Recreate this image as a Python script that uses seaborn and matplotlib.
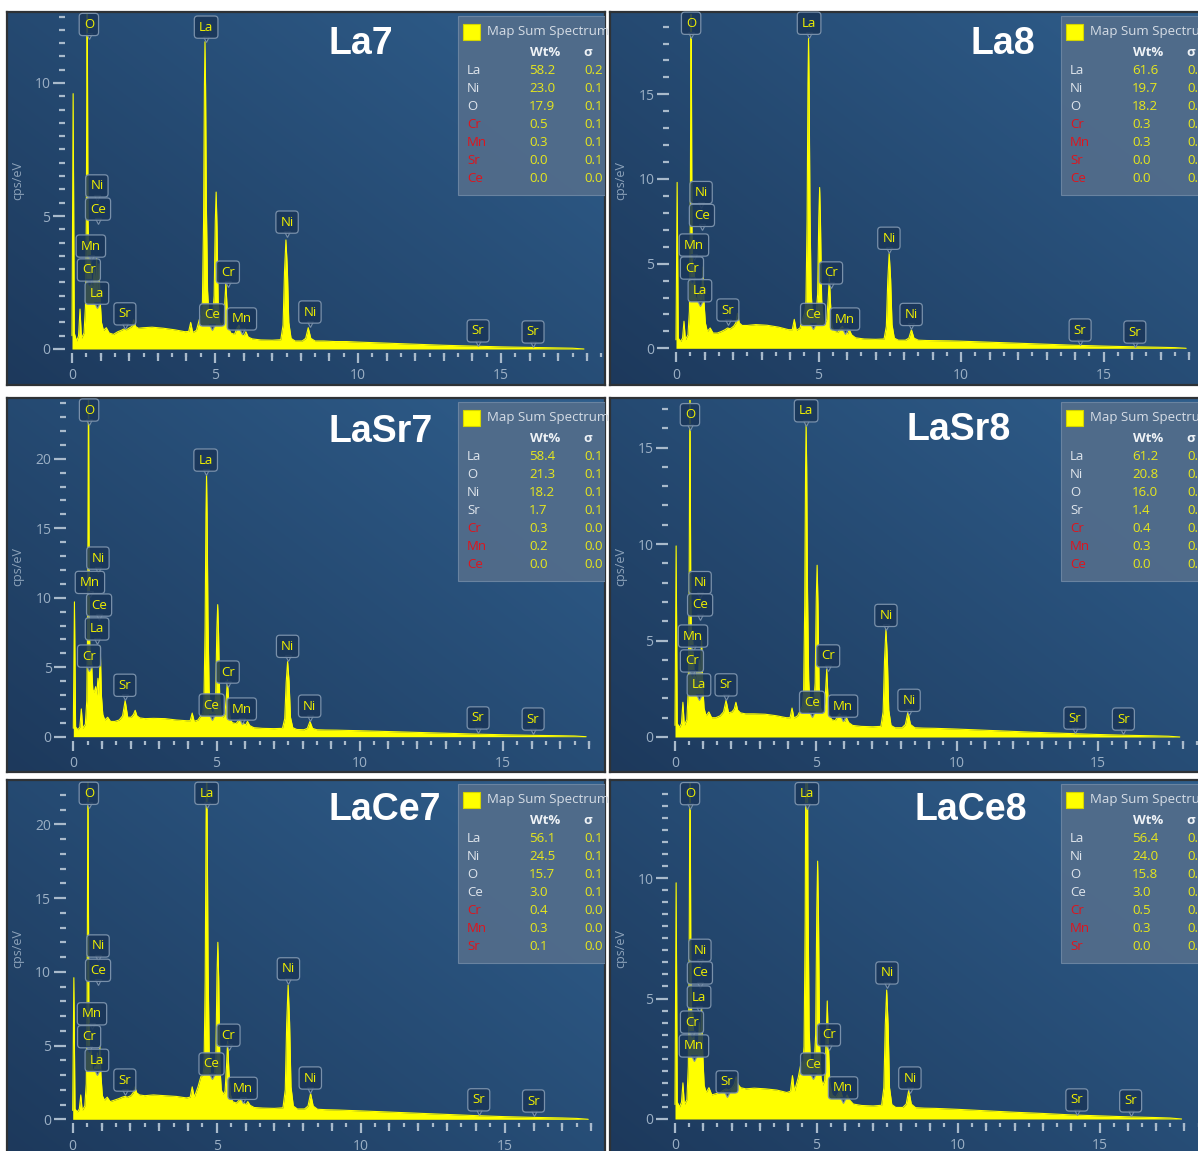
import numpy as np
import matplotlib
matplotlib.use("Agg")
import matplotlib.pyplot as plt
import matplotlib.transforms as mtransforms
from matplotlib.patches import Rectangle
from matplotlib.ticker import MultipleLocator
import seaborn as sns

sns.set_style("ticks")
plt.rcParams["font.family"] = ["Open Sans", "DejaVu Sans"]

# ---------------------------------------------------------------- data
samples = ["La7", "La8", "LaSr7", "LaSr8", "LaCe7", "LaCe8"]

# shared energy axis (keV)
energy_kev = [
    0.00, 0.04, 0.08, 0.16, 0.23, 0.28, 0.33, 0.42, 0.47, 0.50, 0.53, 0.56, 0.59,
    0.63, 0.68, 0.73, 0.78, 0.82, 0.86, 0.90, 0.94, 0.98, 1.03, 1.10, 1.20, 1.30,
    1.45, 1.60, 1.72, 1.81, 1.90, 2.02, 2.10, 2.16, 2.22, 2.32, 2.50, 2.80, 3.20,
    3.60, 3.95, 4.08, 4.15, 4.22, 4.35, 4.45,
    4.52, 4.56, 4.60, 4.63, 4.65, 4.67, 4.70, 4.74, 4.78, 4.85, 4.92, 4.97, 5.01,
    5.04, 5.07, 5.11, 5.16, 5.22, 5.29, 5.34, 5.38, 5.42, 5.47, 5.55,
    5.68, 5.78, 5.84, 5.92, 6.02, 6.08, 6.16, 6.30, 6.60, 7.00, 7.30, 7.38, 7.43,
    7.48, 7.53, 7.58, 7.66, 7.80, 8.05, 8.17, 8.26, 8.35, 8.50, 8.80,
    9.2, 9.6, 10.0, 10.5, 11.0, 12.0, 13.0, 14.0, 15.0, 16.0, 17.0, 17.5, 17.9,
]

# counts (cps/eV) on the energy axis above
cps_la7 = [
    0.5, 9.6, 0.6, 0.3, 0.5, 1.5, 0.4, 0.6, 1.6, 4.8, 14.0, 4.8, 3.4,
    4.0, 2.3, 2.4, 3.0, 2.2, 3.4, 2.0, 3.2, 1.9, 1.0, 0.7, 0.8, 0.6,
    0.55, 0.65, 0.7, 0.75, 0.72, 0.8, 0.85, 1.1, 0.85, 0.78, 0.8, 0.82, 0.78,
    0.72, 0.65, 0.66, 1.0, 0.62, 0.7, 1.1,
    1.3, 1.8, 4.8, 9.9, 11.55, 9.9, 5.3, 2.2, 1.4, 1.2, 1.3, 2.0, 4.8,
    5.9, 4.6, 1.8, 1.0, 0.9, 1.0, 1.7, 2.5, 1.6, 0.8, 0.6,
    0.55, 0.8, 0.9, 0.55, 0.5, 0.65, 0.45, 0.38, 0.34, 0.33, 0.35, 0.9, 2.9,
    4.1, 3.0, 1.0, 0.4, 0.3, 0.3, 0.4, 0.8, 0.4, 0.3, 0.3,
    0.28, 0.28, 0.26, 0.24, 0.22, 0.18, 0.14, 0.11, 0.08, 0.06, 0.04, 0.03, 0.0,
]
cps_la8 = [
    0.5, 9.8, 0.6, 0.4, 0.6, 1.6, 0.5, 0.8, 2.2, 7.0, 22.0, 7.0, 4.0,
    4.8, 3.0, 2.9, 3.3, 2.9, 3.6, 2.8, 4.8, 2.8, 1.5, 1.0, 1.2, 0.9,
    0.9, 1.0, 1.1, 1.2, 1.15, 1.3, 1.5, 2.07, 1.5, 1.35, 1.35, 1.4, 1.36,
    1.25, 1.1, 1.1, 1.71, 1.05, 1.2, 1.8,
    2.1, 2.8, 7.6, 15.6, 18.3, 15.6, 8.4, 3.4, 2.2, 2.0, 2.1, 3.2, 7.7,
    9.5, 7.4, 2.9, 1.7, 1.5, 1.7, 2.9, 4.2, 2.7, 1.3, 1.0,
    0.95, 1.2, 1.3, 0.95, 0.85, 1.1, 0.8, 0.62, 0.55, 0.53, 0.55, 1.3, 4.0,
    5.6, 4.1, 1.4, 0.6, 0.48, 0.48, 0.6, 1.1, 0.6, 0.48, 0.46,
    0.45, 0.44, 0.42, 0.39, 0.36, 0.3, 0.24, 0.18, 0.13, 0.09, 0.06, 0.04, 0.0,
]
cps_lasr7 = [
    0.6, 9.7, 0.7, 0.5, 0.7, 2.0, 0.6, 0.9, 2.6, 8.0, 26.0, 8.0, 5.3,
    5.6, 3.4, 3.2, 3.6, 3.0, 4.2, 3.0, 6.5, 3.0, 1.6, 1.2, 1.4, 1.1,
    1.1, 1.2, 1.5, 2.6, 1.4, 1.4, 1.6, 1.9, 1.5, 1.35, 1.3, 1.32, 1.3,
    1.2, 1.15, 1.15, 1.7, 1.1, 1.2, 1.5,
    1.7, 2.6, 7.8, 16.0, 18.8, 16.0, 8.6, 3.4, 2.0, 1.7, 1.8, 3.0, 7.7,
    9.5, 7.4, 2.8, 1.6, 1.4, 1.6, 2.8, 4.1, 2.6, 1.3, 1.0,
    0.95, 1.2, 1.3, 0.95, 0.85, 1.1, 0.8, 0.65, 0.6, 0.58, 0.6, 1.3, 3.9,
    5.4, 4.0, 1.4, 0.65, 0.52, 0.5, 0.6, 1.1, 0.6, 0.5, 0.48,
    0.47, 0.45, 0.43, 0.4, 0.37, 0.31, 0.25, 0.19, 0.14, 0.1, 0.07, 0.05, 0.0,
]
cps_lasr8 = [
    0.6, 9.9, 0.7, 0.5, 0.7, 1.8, 0.6, 0.9, 2.4, 7.0, 19.0, 7.0, 4.8,
    5.0, 3.2, 3.0, 3.4, 2.8, 4.0, 2.8, 5.2, 2.8, 1.5, 1.1, 1.3, 1.0,
    1.0, 1.1, 1.3, 1.9, 1.25, 1.3, 1.45, 1.8, 1.4, 1.25, 1.2, 1.2, 1.18,
    1.1, 1.0, 1.0, 1.5, 0.98, 1.1, 1.4,
    1.6, 2.3, 6.8, 13.9, 16.3, 13.9, 7.5, 3.0, 1.8, 1.6, 1.7, 2.8, 7.2,
    8.9, 6.9, 2.6, 1.5, 1.3, 1.4, 2.4, 3.5, 2.2, 1.2, 0.9,
    0.85, 1.1, 1.2, 0.85, 0.8, 1.0, 0.75, 0.6, 0.55, 0.53, 0.55, 1.3, 4.0,
    5.6, 4.1, 1.4, 0.6, 0.48, 0.48, 0.65, 1.3, 0.65, 0.48, 0.46,
    0.45, 0.43, 0.41, 0.38, 0.35, 0.29, 0.23, 0.18, 0.13, 0.09, 0.06, 0.04, 0.0,
]
cps_lace7 = [
    0.6, 9.6, 0.7, 0.5, 0.7, 1.65, 0.6, 0.9, 2.4, 7.5, 25.0, 7.5, 4.5,
    4.8, 3.4, 3.3, 3.6, 3.2, 4.5, 3.2, 5.0, 3.0, 1.6, 1.3, 1.5, 1.2,
    1.3, 1.4, 1.5, 1.55, 1.5, 1.6, 1.8, 2.2, 1.8, 1.65, 1.6, 1.65, 1.6,
    1.55, 1.45, 1.5, 2.2, 1.5, 2.2, 2.9,
    3.0, 3.6, 9.4, 20.0, 24.0, 20.0, 10.5, 4.4, 3.1, 3.0, 2.9, 4.1, 9.8,
    12.0, 9.4, 3.6, 2.0, 1.7, 1.9, 3.6, 5.3, 3.4, 1.7, 1.2,
    1.1, 1.3, 1.4, 1.1, 1.0, 1.2, 0.95, 0.8, 0.76, 0.74, 0.78, 2.0, 6.5,
    9.1, 6.6, 2.2, 0.9, 0.7, 0.7, 0.9, 1.75, 0.9, 0.68, 0.65,
    0.63, 0.6, 0.57, 0.53, 0.49, 0.41, 0.33, 0.25, 0.18, 0.13, 0.09, 0.06, 0.0,
]
cps_lace8 = [
    0.6, 9.8, 0.7, 0.5, 0.7, 1.5, 0.6, 0.8, 2.2, 6.5, 16.0, 6.5, 4.2,
    4.4, 3.0, 2.9, 3.2, 2.8, 4.0, 2.8, 4.6, 2.7, 1.4, 1.1, 1.3, 1.0,
    1.05, 1.1, 1.2, 1.25, 1.2, 1.3, 1.45, 1.75, 1.45, 1.3, 1.25, 1.28, 1.25,
    1.2, 1.1, 1.15, 1.8, 1.15, 1.7, 2.3,
    2.4, 3.0, 8.2, 17.5, 20.5, 17.5, 9.2, 3.7, 2.5, 2.4, 2.3, 3.5, 8.7,
    10.7, 8.4, 3.1, 1.7, 1.4, 1.6, 3.3, 4.9, 3.1, 1.5, 1.0,
    0.9, 1.1, 1.2, 0.9, 0.85, 1.0, 0.8, 0.62, 0.56, 0.54, 0.57, 1.3, 3.9,
    5.35, 3.9, 1.3, 0.6, 0.48, 0.48, 0.62, 1.2, 0.62, 0.47, 0.45,
    0.44, 0.42, 0.4, 0.37, 0.34, 0.28, 0.23, 0.17, 0.13, 0.09, 0.06, 0.04, 0.0,
]

# quantification tables (element, Wt%, sigma, flagged)
tbl_el_la7 = ["La", "Ni", "O", "Cr", "Mn", "Sr", "Ce"]
tbl_wt_la7 = [58.2, 23.0, 17.9, 0.5, 0.3, 0.0, 0.0]
tbl_sd_la7 = [0.2, 0.1, 0.1, 0.1, 0.1, 0.1, 0.0]
tbl_flag_la7 = [0, 0, 0, 1, 1, 1, 1]

tbl_el_la8 = ["La", "Ni", "O", "Cr", "Mn", "Sr", "Ce"]
tbl_wt_la8 = [61.6, 19.7, 18.2, 0.3, 0.3, 0.0, 0.0]
tbl_sd_la8 = [0.2, 0.1, 0.1, 0.1, 0.0, 0.0, 0.0]
tbl_flag_la8 = [0, 0, 0, 1, 1, 1, 1]

tbl_el_lasr7 = ["La", "O", "Ni", "Sr", "Cr", "Mn", "Ce"]
tbl_wt_lasr7 = [58.4, 21.3, 18.2, 1.7, 0.3, 0.2, 0.0]
tbl_sd_lasr7 = [0.1, 0.1, 0.1, 0.1, 0.0, 0.0, 0.0]
tbl_flag_lasr7 = [0, 0, 0, 0, 1, 1, 1]

tbl_el_lasr8 = ["La", "Ni", "O", "Sr", "Cr", "Mn", "Ce"]
tbl_wt_lasr8 = [61.2, 20.8, 16.0, 1.4, 0.4, 0.3, 0.0]
tbl_sd_lasr8 = [0.1, 0.1, 0.1, 0.1, 0.1, 0.0, 0.0]
tbl_flag_lasr8 = [0, 0, 0, 0, 1, 1, 1]

tbl_el_lace7 = ["La", "Ni", "O", "Ce", "Cr", "Mn", "Sr"]
tbl_wt_lace7 = [56.1, 24.5, 15.7, 3.0, 0.4, 0.3, 0.1]
tbl_sd_lace7 = [0.1, 0.1, 0.1, 0.1, 0.0, 0.0, 0.0]
tbl_flag_lace7 = [0, 0, 0, 0, 1, 1, 1]

tbl_el_lace8 = ["La", "Ni", "O", "Ce", "Cr", "Mn", "Sr"]
tbl_wt_lace8 = [56.4, 24.0, 15.8, 3.0, 0.5, 0.3, 0.0]
tbl_sd_lace8 = [0.2, 0.1, 0.1, 0.1, 0.1, 0.0, 0.0]
tbl_flag_lace8 = [0, 0, 0, 0, 1, 1, 1]

spectra = [cps_la7, cps_la8, cps_lasr7, cps_lasr8, cps_lace7, cps_lace8]
tables = [
    (tbl_el_la7, tbl_wt_la7, tbl_sd_la7, tbl_flag_la7),
    (tbl_el_la8, tbl_wt_la8, tbl_sd_la8, tbl_flag_la8),
    (tbl_el_lasr7, tbl_wt_lasr7, tbl_sd_lasr7, tbl_flag_lasr7),
    (tbl_el_lasr8, tbl_wt_lasr8, tbl_sd_lasr8, tbl_flag_lasr8),
    (tbl_el_lace7, tbl_wt_lace7, tbl_sd_lace7, tbl_flag_lace7),
    (tbl_el_lace8, tbl_wt_lace8, tbl_sd_lace8, tbl_flag_lace8),
]

# ---------------------------------------------------------------- layout
W, H = 1198, 1151

# panel frame (px), origin px of the energy/count axes and px per unit
panels = [
    dict(box=(7, 12, 605, 385), x0=72.0, ppk=28.6, y0=349.0, ppu=26.6, ystep=0.5, title=(361, 44)),
    dict(box=(610, 12, 1208, 385), x0=676.0, ppk=28.5, y0=348.3, ppu=16.93, ystep=1.0, title=(1003, 44)),
    dict(box=(7, 398, 605, 772), x0=73.3, ppk=28.65, y0=736.7, ppu=13.9, ystep=1.0, title=(381, 432)),
    dict(box=(610, 398, 1208, 772), x0=675.0, ppk=28.2, y0=737.0, ppu=19.3, ystep=1.0, title=(959, 430)),
    dict(box=(7, 780, 605, 1153), x0=72.7, ppk=28.8, y0=1119.3, ppu=14.75, ystep=1.0, title=(385, 810)),
    dict(box=(610, 780, 1208, 1153), x0=675.0, ppk=28.3, y0=1119.0, ppu=24.1, ystep=0.5, title=(971, 810)),
]

# peak marker boxes: (element, energy, height of box centre)
markers = [
    [("O", 0.59, 12.2), ("La", 4.69, 12.1), ("Ni", 0.87, 6.13), ("Ce", 0.91, 5.26),
     ("Mn", 0.66, 3.87), ("Cr", 0.59, 2.97), ("La", 0.87, 2.1), ("Sr", 1.85, 1.32),
     ("Ce", 4.9, 1.28), ("Mn", 5.94, 1.13), ("Cr", 5.45, 2.89), ("Ni", 7.52, 4.77),
     ("Ni", 8.32, 1.39), ("Sr", 14.2, 0.68), ("Sr", 16.12, 0.64)],
    [("O", 0.53, 19.2), ("La", 4.67, 19.2), ("Ni", 0.88, 9.2), ("Ce", 0.91, 7.85),
     ("Mn", 0.63, 6.1), ("Cr", 0.56, 4.74), ("La", 0.84, 3.4), ("Sr", 1.82, 2.26),
     ("Ce", 4.81, 2.0), ("Mn", 5.93, 1.73), ("Cr", 5.44, 4.45), ("Ni", 7.47, 6.5),
     ("Ni", 8.25, 2.0), ("Sr", 14.18, 1.08), ("Sr", 16.1, 0.96)],
    [("O", 0.55, 23.5), ("La", 4.62, 19.9), ("Ni", 0.86, 12.85), ("Mn", 0.58, 11.1),
     ("Ce", 0.9, 9.47), ("La", 0.83, 7.75), ("Cr", 0.55, 5.8), ("Sr", 1.8, 3.7),
     ("Ce", 4.83, 2.28), ("Mn", 5.88, 1.99), ("Cr", 5.39, 4.65), ("Ni", 7.48, 6.5),
     ("Ni", 8.25, 2.2), ("Sr", 14.13, 1.35), ("Sr", 16.05, 1.27)],
    [("O", 0.53, 16.7), ("La", 4.65, 16.9), ("Ni", 0.89, 8.0), ("Ce", 0.89, 6.84),
     ("Mn", 0.64, 5.23), ("Cr", 0.6, 3.94), ("La", 0.85, 2.7), ("Sr", 1.81, 2.7),
     ("Ce", 4.86, 1.8), ("Mn", 5.96, 1.6), ("Cr", 5.43, 4.2), ("Ni", 7.48, 6.3),
     ("Ni", 8.3, 1.9), ("Sr", 14.18, 0.98), ("Sr", 15.9, 0.93)],
    [("O", 0.56, 22.1), ("La", 4.65, 22.1), ("Ni", 0.88, 11.75), ("Ce", 0.88, 10.1),
     ("Mn", 0.67, 7.15), ("Cr", 0.57, 5.6), ("La", 0.84, 4.0), ("Sr", 1.81, 2.66),
     ("Ce", 4.82, 3.75), ("Mn", 5.9, 2.1), ("Cr", 5.41, 5.7), ("Ni", 7.49, 10.2),
     ("Ni", 8.25, 2.8), ("Sr", 14.1, 1.32), ("Sr", 16.0, 1.24)],
    [("O", 0.53, 13.5), ("La", 4.66, 13.5), ("Ni", 0.88, 7.0), ("Ce", 0.88, 6.06),
     ("La", 0.85, 5.06), ("Cr", 0.6, 4.02), ("Mn", 0.67, 3.03), ("Sr", 1.84, 1.54),
     ("Ce", 4.88, 2.28), ("Mn", 5.94, 1.29), ("Cr", 5.44, 3.49), ("Ni", 7.49, 6.06),
     ("Ni", 8.3, 1.7), ("Sr", 14.2, 0.79), ("Sr", 16.1, 0.75)],
]

BG_LOW = np.array([29, 57, 92]) / 255.0
BG_HIGH = np.array([47, 94, 140]) / 255.0
TICK_COL = "#a9bacb"
TICKLABEL_COL = "#9cb0c5"
SPEC_COL = "#ffff00"
MARK_FACE = (0.10, 0.21, 0.35, 0.88)
MARK_EDGE = "#7990aa"
VAL_COL = "#e8e81c"
RED_COL = "#e0141c"
NAME_COL = "#dfe5ec"

fig = plt.figure(figsize=(W / 100, H / 100), dpi=100)
fig.patch.set_facecolor("white")


def frac_rect(l, t, r, b):
    return [l / W, 1 - b / H, (r - l) / W, (b - t) / H]


energy = np.array(energy_kev)

for i, lay in enumerate(panels):
    L, T, R, B = lay["box"]
    pw, ph = R - L, B - T

    # ---- panel frame with gradient background
    pax = fig.add_axes(frac_rect(L, T, R, B))
    pax.set_xlim(0, pw)
    pax.set_ylim(ph, 0)
    gx = np.linspace(0, 1, 200)[None, :]
    gy = np.linspace(0, 1, 200)[:, None]
    t = np.clip(0.55 * gx + 0.45 * (1 - gy), 0, 1)
    grad = BG_LOW[None, None, :] + (BG_HIGH - BG_LOW)[None, None, :] * t[..., None]
    pax.imshow(grad, extent=[0, pw, ph, 0], aspect="auto", zorder=0, interpolation="bilinear")
    pax.set_xticks([])
    pax.set_yticks([])
    for s in pax.spines.values():
        s.set_color("#2e3236")
        s.set_linewidth(1.6)

    # sample name
    cx, cy = lay["title"]
    pax.text(cx - L, cy - T, samples[i], ha="center", va="center", fontsize=27,
             fontweight="bold", color="white", family=["Liberation Sans", "DejaVu Sans"], zorder=4)

    pax.text(11, 169, "cps/eV", rotation=90, ha="center", va="center",
             fontsize=9, color="#8ea3ba", zorder=4)

    # ---- quantification table
    els, wts, sds, flags = tables[i]
    pax.add_patch(Rectangle((451, 4), 150, 179, facecolor="#536d8b", edgecolor="#6e87a3",
                            lw=0.8, alpha=0.92, zorder=3))
    pax.add_patch(Rectangle((456, 12), 17, 16, facecolor=SPEC_COL, edgecolor="#d4d400",
                            lw=0.8, zorder=4))
    pax.text(480, 20, "Map Sum Spectrum", ha="left", va="center", fontsize=9.5,
             color="#d6dde6", zorder=4)
    pax.text(538, 41, "Wt%", ha="center", va="center", fontsize=9.5, fontweight="bold",
             color="#eef2f6", zorder=4)
    pax.text(581, 41, "σ", ha="center", va="center", fontsize=9.5, fontweight="bold",
             color="#eef2f6", zorder=4)
    for k, (el, wt, sd, fl) in enumerate(zip(els, wts, sds, flags)):
        yy = 59 + 18 * k
        pax.text(460, yy, el, ha="left", va="center", fontsize=9.5,
                 color=RED_COL if fl else NAME_COL, zorder=4)
        pax.text(522, yy, f"{wt:.1f}", ha="left", va="center", fontsize=9.5,
                 color=VAL_COL, zorder=4)
        pax.text(577, yy, f"{sd:.1f}", ha="left", va="center", fontsize=9.5,
                 color=VAL_COL, zorder=4)

    # ---- spectrum axes
    x0, ppk, y0, ppu = lay["x0"], lay["ppk"], lay["y0"], lay["ppu"]
    dax = fig.add_axes(frac_rect(x0 - 7, T + 2, R - 2, y0 + 4))
    dax.patch.set_alpha(0)
    counts = np.array(spectra[i])
    dax.fill_between(energy, counts, 0, color=SPEC_COL, lw=0, zorder=2)
    sns.lineplot(x=energy, y=counts, ax=dax, color=SPEC_COL, lw=0.8, sort=False,
                 estimator=None, zorder=3)
    dax.set_xlim(-7 / ppk, (R - 2 - x0) / ppk)
    dax.set_ylim(-4 / ppu, (y0 - T - 2) / ppu)
    dax.set_xlabel("")
    dax.set_ylabel("")
    for s in dax.spines.values():
        s.set_visible(False)

    dax.yaxis.set_major_locator(MultipleLocator(5))
    dax.yaxis.set_minor_locator(MultipleLocator(lay["ystep"]))
    dax.xaxis.set_major_locator(MultipleLocator(5))
    dax.xaxis.set_minor_locator(MultipleLocator(0.5))
    dax.tick_params(axis="y", which="major", direction="out", length=8.5, width=1.6,
                    color=TICK_COL, labelcolor=TICKLABEL_COL, labelsize=10, pad=2)
    dax.tick_params(axis="y", which="minor", direction="out", length=4.3, width=1.6,
                    color=TICK_COL)
    dax.tick_params(axis="x", which="major", direction="out", length=7.5, width=1.6,
                    color=TICK_COL, labelcolor=TICKLABEL_COL, labelsize=10, pad=3.5)
    dax.tick_params(axis="x", which="minor", direction="out", length=3.0, width=1.6,
                    color=TICK_COL)
    sec = dax.secondary_xaxis("bottom")
    sec.set_xticks([k for k in range(1, 19) if k % 5])
    sec.tick_params(axis="x", direction="out", length=5.5, width=1.6, color=TICK_COL,
                    labelbottom=False)
    sec.spines["bottom"].set_visible(False)

    # ---- peak marker boxes
    notch = mtransforms.offset_copy(dax.transData, fig=fig, x=0, y=-12, units="dots")
    for el, e, y in markers[i]:
        dax.text(e, y, el, ha="center", va="center", fontsize=9.5, color="#f0f000",
                 zorder=6, bbox=dict(boxstyle="round,pad=0.35,rounding_size=0.25",
                                     fc=MARK_FACE, ec=MARK_EDGE, lw=0.9))
        dax.plot([e], [y], marker="v", ms=5, mfc=MARK_FACE, mec=MARK_EDGE, mew=0.8,
                 transform=notch, zorder=5, clip_on=False)

fig.savefig("out.png", dpi=100)
